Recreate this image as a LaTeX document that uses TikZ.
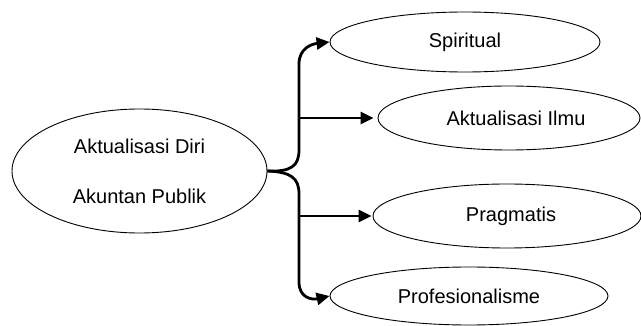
\documentclass[tikz,border=0pt]{standalone}
\usepackage{fontspec}
\setmainfont{Liberation Sans}
\usetikzlibrary{shapes.geometric,arrows.meta}
\begin{document}
\begin{tikzpicture}[x=1pt,y=-1pt,
  oval/.style={draw,ellipse,line width=0.9pt,inner sep=0pt,font=\fontsize{20}{24}\selectfont},
  conn/.style={line width=2.8pt},
  arr/.style={conn,-{Triangle[length=13pt,width=12pt]}}]
\useasboundingbox (0,0) rectangle (641,326);
\node[oval,minimum width=255pt,minimum height=124pt,align=center,
  font=\fontsize{20}{50}\selectfont] (main) at (139.5,171) {Aktualisasi Diri\\Akuntan Publik};
\node[oval,minimum width=270pt,minimum height=60pt] (sp) at (465,42) {Spiritual};
\node[oval,minimum width=262pt,minimum height=64pt] (ai) at (509,118) {\hspace{14pt}Aktualisasi Ilmu};
\node[oval,minimum width=268pt,minimum height=64pt] (pr) at (507,216) {\hspace{8pt}Pragmatis};
\node[oval,minimum width=278pt,minimum height=58pt] (pf) at (469,296) {Profesionalisme};
\coordinate (u1) at (299,150);
\coordinate (u2) at (299,64);
\coordinate (d1) at (299,194);
\coordinate (d2) at (299,282);
\coordinate (j1) at (299,118);
\coordinate (j2) at (299,216);
\draw[conn] (main.east) .. controls (291,172) and (299,166) .. (u1) -- (u2);
\draw[arr] (u2) .. controls (299,48) and (312,44) .. (sp.west);
\draw[conn] (main.east) .. controls (291,172) and (299,178) .. (d1) -- (d2);
\draw[arr] (d2) .. controls (299,298) and (312,300) .. (pf.west);
\draw[arr,shorten >=4pt] (j1) -- (ai.west);
\draw[arr,shorten >=1pt] (j2) -- (pr.west);
\end{tikzpicture}
\end{document}
